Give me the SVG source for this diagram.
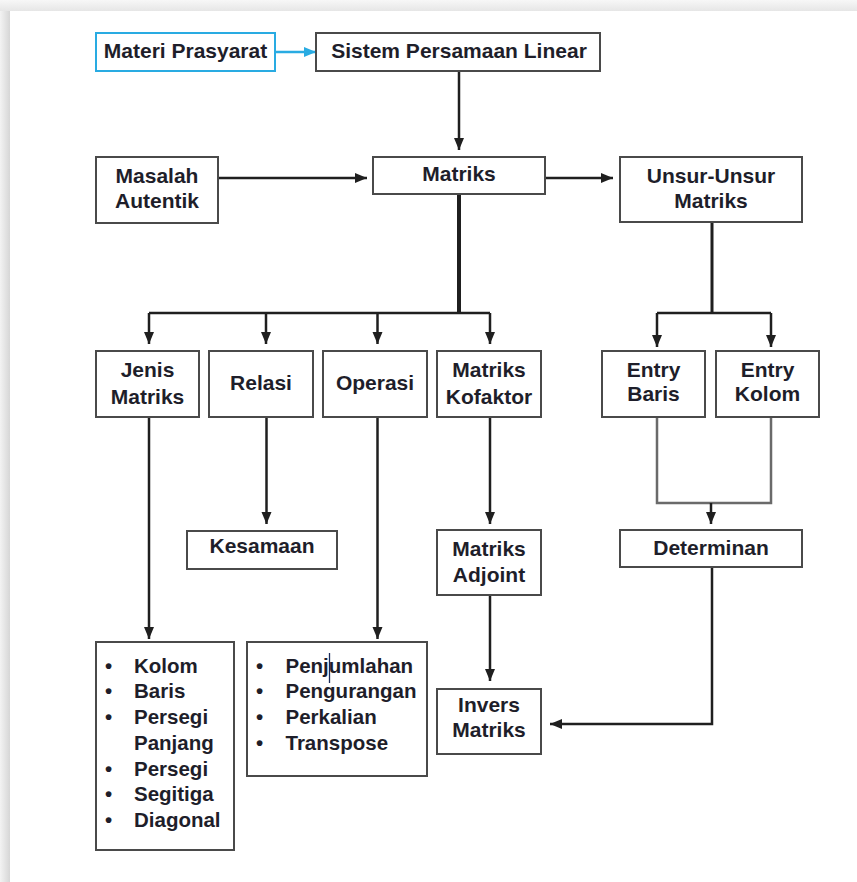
<svg xmlns="http://www.w3.org/2000/svg" width="857" height="882" viewBox="0 0 857 882">
<style>
.box{fill:#fff;stroke:#4a4a4a;stroke-width:2}
.t{font-family:"Liberation Sans",Arial,sans-serif;font-weight:bold;font-size:21px;fill:#1e1e2a;text-anchor:middle}
.l{font-family:"Liberation Sans",Arial,sans-serif;font-weight:bold;font-size:20.5px;fill:#1e1e2a}
.c{fill:none;stroke:#1f1f1f;stroke-width:2.5}
.a{marker-end:url(#arr)}
</style>
<defs>
<marker id="arr" markerUnits="userSpaceOnUse" markerWidth="14" markerHeight="12" refX="12" refY="5" orient="auto">
<path d="M0,0 L12,5 L0,10 z" fill="#1f1f1f"/>
</marker>
<marker id="arrb" markerUnits="userSpaceOnUse" markerWidth="14" markerHeight="12" refX="12" refY="5" orient="auto">
<path d="M0,0 L12,5 L0,10 z" fill="#29abe2"/>
</marker>
<linearGradient id="gl" x1="0" y1="0" x2="1" y2="0">
<stop offset="0" stop-color="#f3f3f3"/><stop offset="1" stop-color="#d6d6d6"/>
</linearGradient>
<linearGradient id="gt" x1="0" y1="0" x2="0" y2="1">
<stop offset="0" stop-color="#f7f7f7"/><stop offset="1" stop-color="#e6e6e6"/>
</linearGradient>
</defs>
<rect x="0" y="0" width="857" height="882" fill="#f4f4f4"/>
<rect x="0" y="0" width="857" height="11" fill="url(#gt)"/>
<rect x="0" y="11" width="10" height="871" fill="url(#gl)"/>
<rect x="10" y="11" width="847" height="871" fill="#fff"/>

<g id="connectors">
<line x1="275" y1="52" x2="316" y2="52" stroke="#29abe2" stroke-width="2.5" marker-end="url(#arrb)"/>
<line class="c a" x1="459" y1="71" x2="459" y2="150"/>
<line class="c a" x1="218" y1="178" x2="367" y2="178"/>
<line class="c a" x1="545" y1="178" x2="613" y2="178"/>
<line x1="459" y1="194" x2="459" y2="313" stroke="#1f1f1f" stroke-width="4"/>
<path class="c" d="M149,313 H490"/>
<line class="c a" x1="149" y1="313" x2="149" y2="344"/>
<line class="c a" x1="266" y1="313" x2="266" y2="344"/>
<line class="c a" x1="377.5" y1="313" x2="377.5" y2="344"/>
<line class="c a" x1="490" y1="313" x2="490" y2="344"/>
<line x1="712" y1="222" x2="712" y2="313" stroke="#1f1f1f" stroke-width="3"/>
<path class="c" d="M657,313 H771"/>
<line class="c a" x1="657" y1="313" x2="657" y2="347"/>
<line class="c a" x1="771" y1="313" x2="771" y2="347"/>
<path d="M657,417 V503 H771 V417" fill="none" stroke="#6a6a6a" stroke-width="2.5"/>
<line class="c a" x1="711" y1="503" x2="711" y2="524"/>
<path class="c a" d="M712,567 V724 H550"/>
<line class="c a" x1="266.5" y1="417" x2="266.5" y2="524"/>
<line class="c a" x1="490" y1="417" x2="490" y2="524"/>
<line class="c a" x1="490" y1="595" x2="490" y2="681"/>
<line class="c a" x1="149" y1="417" x2="149" y2="639"/>
<line class="c a" x1="377.5" y1="417" x2="377.5" y2="639"/>
</g>

<g id="materi-prasyarat">
<rect x="96" y="33" width="179" height="38" fill="#fff" stroke="#29abe2" stroke-width="2"/>
<text class="t" x="185.5" y="58">Materi Prasyarat</text>
</g>
<g id="sistem-persamaan-linear">
<rect class="box" x="316" y="33" width="284" height="38"/>
<text class="t" x="459" y="58">Sistem Persamaan Linear</text>
</g>
<g id="masalah-autentik">
<rect class="box" x="96" y="157" width="122" height="66"/>
<text class="t" x="157" y="183">Masalah</text>
<text class="t" x="157" y="208">Autentik</text>
</g>
<g id="matriks">
<rect class="box" x="373" y="157" width="172" height="37"/>
<text class="t" x="459" y="181">Matriks</text>
</g>
<g id="unsur-unsur-matriks">
<rect class="box" x="620" y="157" width="182" height="65"/>
<text class="t" x="711" y="183">Unsur-Unsur</text>
<text class="t" x="711" y="208">Matriks</text>
</g>
<g id="jenis-matriks">
<rect class="box" x="96" y="351" width="103" height="66"/>
<text class="t" x="147.5" y="377">Jenis</text>
<text class="t" x="147.5" y="404">Matriks</text>
</g>
<g id="relasi">
<rect class="box" x="209" y="351" width="104" height="66"/>
<text class="t" x="261" y="390">Relasi</text>
</g>
<g id="operasi">
<rect class="box" x="323" y="351" width="104" height="66"/>
<text class="t" x="375" y="390">Operasi</text>
</g>
<g id="matriks-kofaktor">
<rect class="box" x="437" y="351" width="104" height="66"/>
<text class="t" x="489" y="377">Matriks</text>
<text class="t" x="489" y="404">Kofaktor</text>
</g>
<g id="entry-baris">
<rect class="box" x="602" y="351" width="103" height="66"/>
<text class="t" x="653.5" y="377">Entry</text>
<text class="t" x="653.5" y="401">Baris</text>
</g>
<g id="entry-kolom">
<rect class="box" x="716" y="351" width="103" height="66"/>
<text class="t" x="767.5" y="377">Entry</text>
<text class="t" x="767.5" y="401">Kolom</text>
</g>
<g id="kesamaan">
<rect class="box" x="187" y="531" width="150" height="38"/>
<text class="t" x="262" y="553">Kesamaan</text>
</g>
<g id="matriks-adjoint">
<rect class="box" x="437" y="530" width="104" height="65"/>
<text class="t" x="489" y="556">Matriks</text>
<text class="t" x="489" y="582">Adjoint</text>
</g>
<g id="determinan">
<rect class="box" x="620" y="530" width="182" height="37"/>
<text class="t" x="711" y="555">Determinan</text>
</g>
<g id="invers-matriks">
<rect class="box" x="437" y="689" width="104" height="65"/>
<text class="t" x="489" y="712">Invers</text>
<text class="t" x="489" y="737">Matriks</text>
</g>
<g id="jenis-list">
<rect class="box" x="96" y="642" width="138" height="208"/>
<text class="l" x="105" y="673">•</text><text class="l" x="134" y="673">Kolom</text>
<text class="l" x="105" y="698">•</text><text class="l" x="134" y="698">Baris</text>
<text class="l" x="105" y="724">•</text><text class="l" x="134" y="724">Persegi</text>
<text class="l" x="134" y="750">Panjang</text>
<text class="l" x="105" y="776">•</text><text class="l" x="134" y="776">Persegi</text>
<text class="l" x="105" y="801">•</text><text class="l" x="134" y="801">Segitiga</text>
<text class="l" x="105" y="827">•</text><text class="l" x="134" y="827">Diagonal</text>
</g>
<g id="operasi-list">
<rect class="box" x="247" y="642" width="180" height="134"/>
<text class="l" x="256" y="673">•</text><text class="l" x="285.5" y="673">Penjumlahan</text>
<text class="l" x="256" y="698">•</text><text class="l" x="285.5" y="698">Pengurangan</text>
<text class="l" x="256" y="724">•</text><text class="l" x="285.5" y="724">Perkalian</text>
<text class="l" x="256" y="750">•</text><text class="l" x="285.5" y="750">Transpose</text>
<line x1="329.5" y1="653" x2="329.5" y2="683" stroke="#1a2a5a" stroke-width="1.3"/>
</g>
</svg>
